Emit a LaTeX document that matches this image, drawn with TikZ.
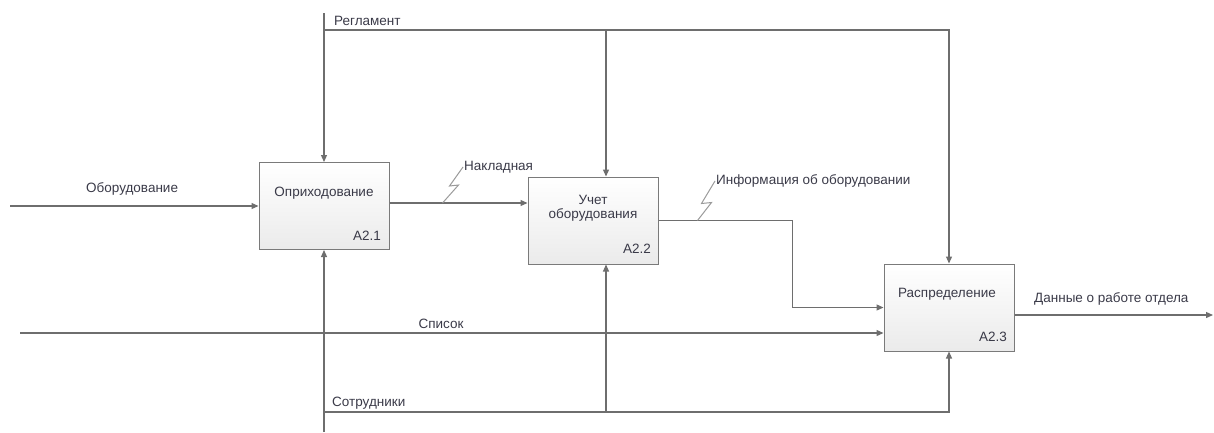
\documentclass[tikz,border=0pt]{standalone}
\usepackage{fontspec}
\setmainfont{Liberation Sans}
\usetikzlibrary{arrows.meta,calc}
\definecolor{ln}{HTML}{6E6E6E}
\definecolor{sq}{HTML}{9A9A9A}
\definecolor{bd}{HTML}{7A7A7A}
\definecolor{tx}{HTML}{3A3A48}
\tikzset{
  conn/.style={draw=ln, line width=1.2pt},
  arr/.style={conn, -{Triangle[length=7pt,width=6pt]}},
  squig/.style={draw=sq, line width=1pt},
  box/.style={draw=bd, line width=1pt, minimum width=130pt, minimum height=87pt, inner sep=0pt, top color=white, bottom color=black!8},
  txt/.style={text=tx, font=\fontsize{13.5}{16}\selectfont, inner sep=1pt, align=center},
}
\begin{document}
\begin{tikzpicture}[x=1pt,y=-1pt]
\useasboundingbox (0,0) rectangle (1214,432);
% boxes
\node[box] (b1) at (324,206) {};
\node[box] (b2) at (593,220.5) {};
\node[box] (b3) at (949,307.5) {};
\node[txt] (t1) at (324,193) {Оприходование};
\node[txt] (n1) at (367,236) {A2.1};
\node[txt] (t2) at (593,208) {Учет\\[-2pt]оборудования};
\node[txt] (n2) at (637,249) {A2.2};
\node[txt] (t3) at (947,294) {Распределение};
\node[txt] (n3) at (993,337) {A2.3};
% inputs
\coordinate (in1) at (10,206);
\draw[arr] (in1) -- (b1.west);
\node[txt, anchor=west] (l1) at (85,189) {Оборудование};
\draw[arr] ($(b1.east)+(0,-3)$) coordinate (nk) -- (b2.west |- nk);
\node[txt, anchor=west] (l2) at (463,167) {Накладная};
\coordinate (s1) at ($(nk)+(53,0)$);
\draw[squig] (s1) -- ++(16,-18) -- ++(-9,1) -- (l2.west);
\draw[arr] (b2.east) coordinate (ie) -- ++(134,0) coordinate (ic) |- (b3.west);
\node[txt, anchor=west] (l3) at (715,181) {Информация об оборудовании};
\coordinate (s2) at ($(ie)+(39,0)$);
\draw[squig] (s2) -- ++(14,-18) -- ++(-10,1) -- (l3.west);
\coordinate (in2) at (20,333);
\draw[arr] (in2) -- (b3.west |- in2);
\node[txt] (l4) at (441,324) {Список};
\coordinate (out1) at (1213,315);
\draw[arr] (b3.east |- out1) -- (out1);
\node[txt, anchor=west] (l5) at (1033,299) {Данные о работе отдела};
% controls
\coordinate (c0) at (324,13);
\coordinate (ch) at (324,30);
\coordinate (c2) at (606,30);
\draw[arr] (c0) -- (b1.north);
\draw[arr] (ch) -| (b3.north);
\draw[arr] (c2) -- (c2 |- b2.north);
\node[txt, anchor=west] (l6) at (333,21) {Регламент};
% mechanisms
\coordinate (m0) at (324,432);
\coordinate (mh) at (324,412);
\coordinate (m2) at (606,412);
\draw[arr] (m0) -- (b1.south);
\draw[arr] (mh) -| (b3.south);
\draw[arr] (m2) -- (m2 |- b2.south);
\node[txt, anchor=west] (l7) at (331,403) {Сотрудники};
\end{tikzpicture}
\end{document}
